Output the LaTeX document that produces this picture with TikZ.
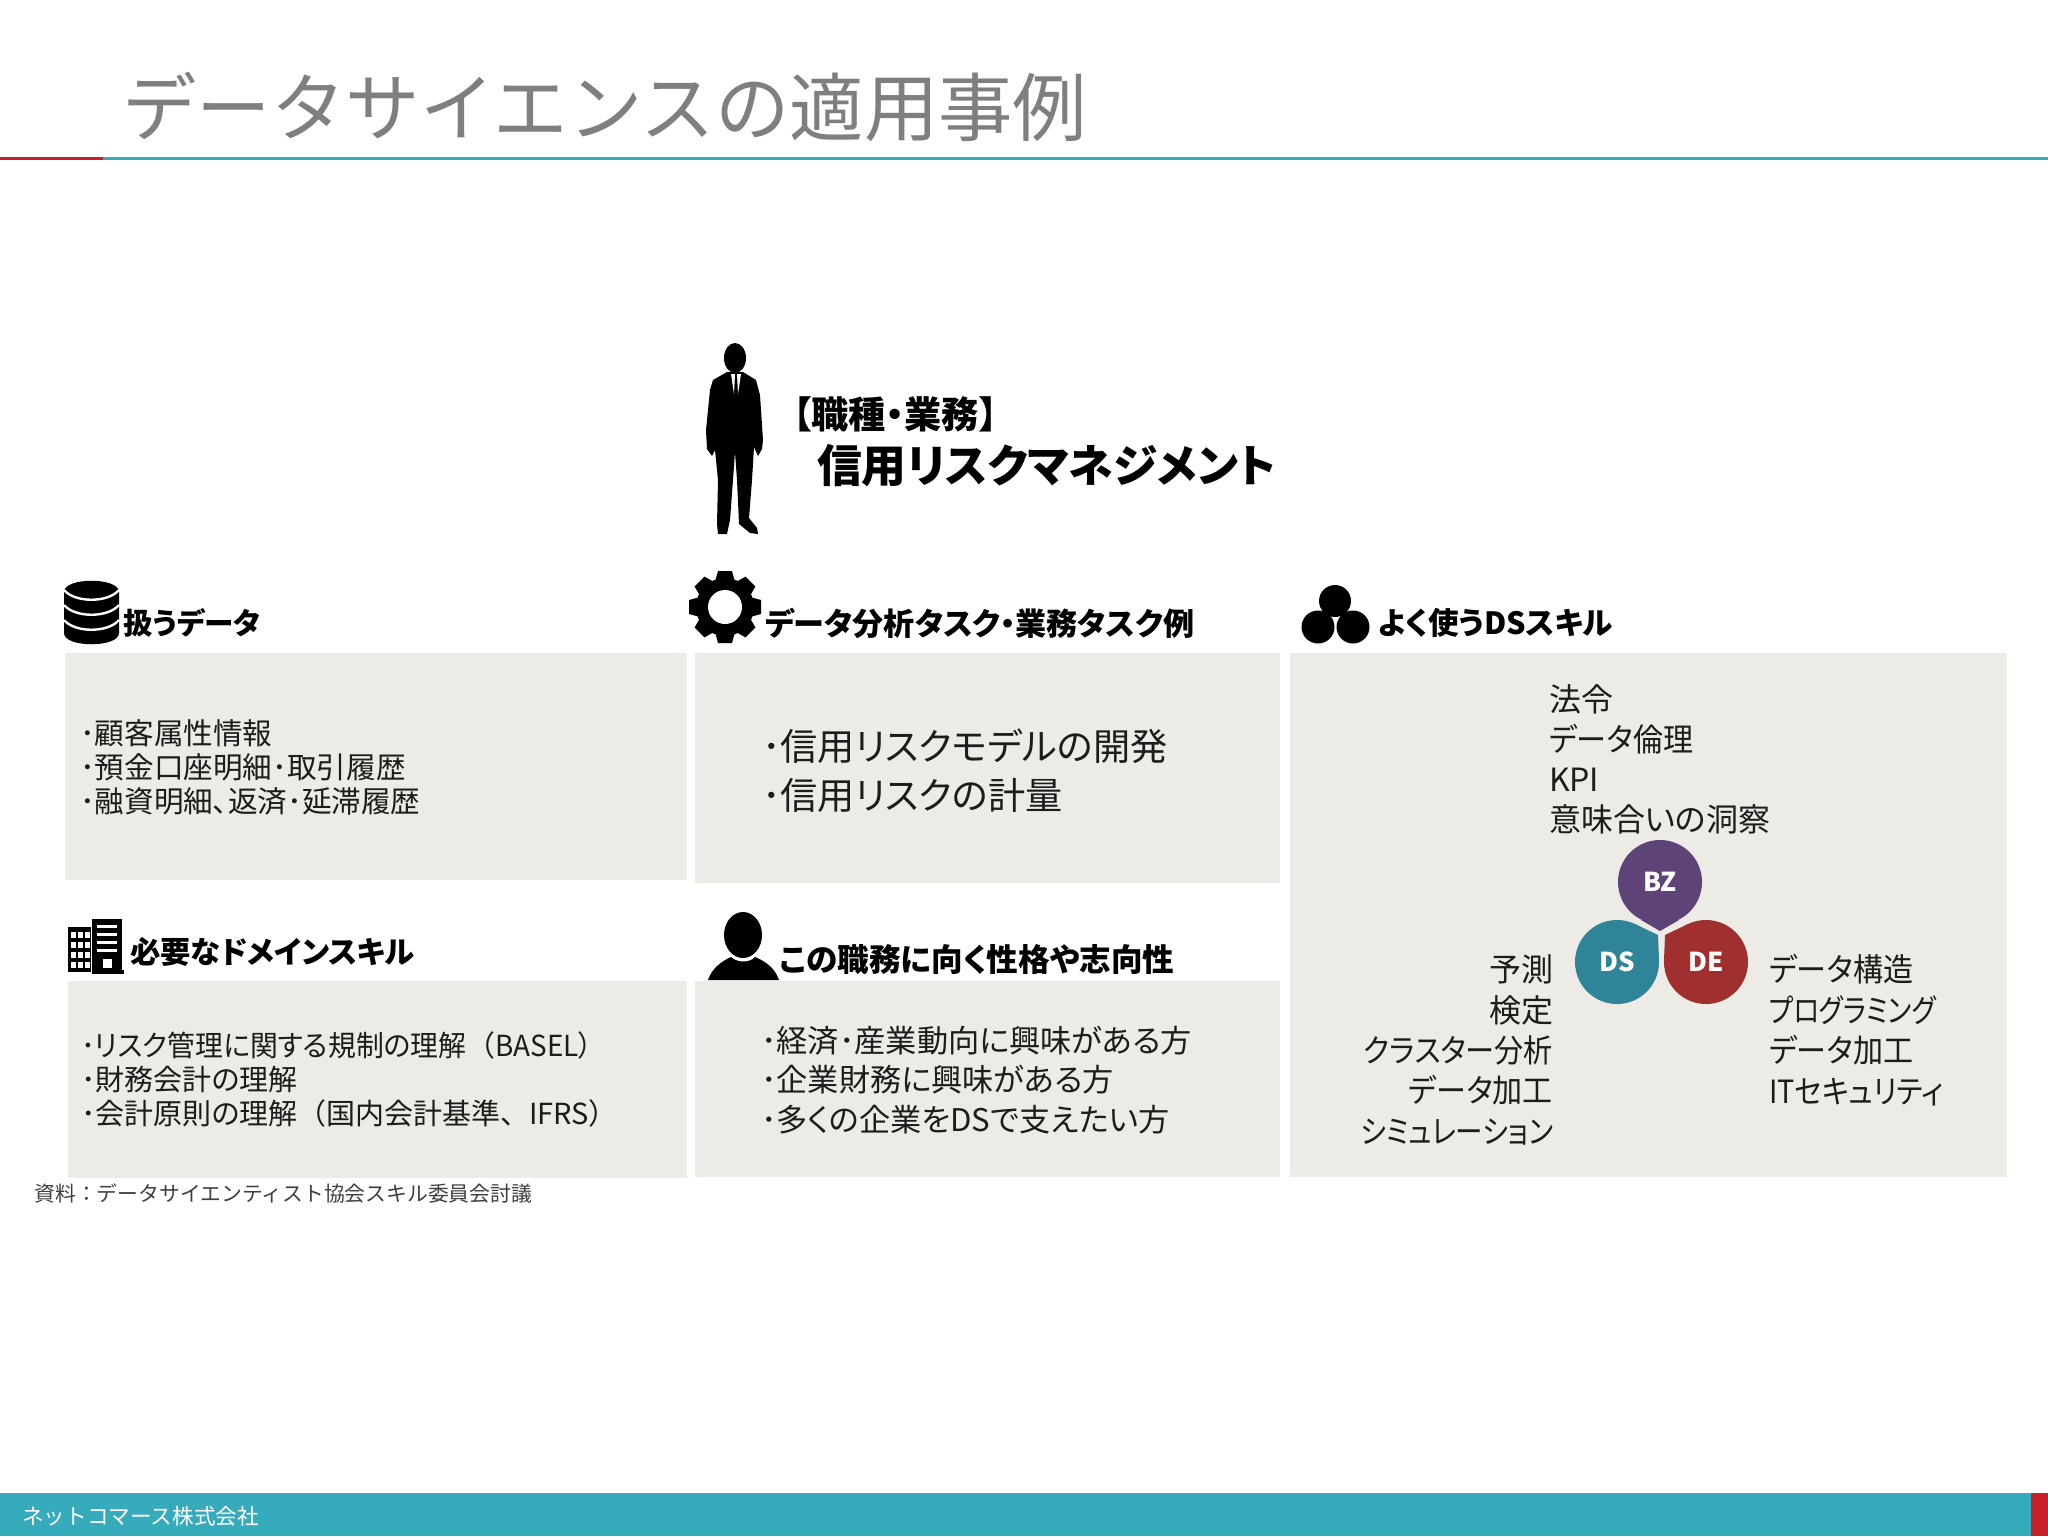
\documentclass[tikz,border=0pt]{standalone}
\usepackage{fontspec}
\setmainfont{Noto Sans CJK JP}
\newfontfamily\cjk{Noto Sans CJK JP}
\newfontfamily\cjkp[RawFeature={+palt}]{Noto Sans CJK JP}
\newcommand{\squeezed}[2]{{\addfontfeature{FakeStretch=#1}#2}}
\definecolor{boxbg}{HTML}{EDEBE5}
\definecolor{teal}{HTML}{36ABBC}
\definecolor{redbar}{HTML}{C8202A}
\definecolor{titlegray}{HTML}{7F7F7F}
\definecolor{ink}{HTML}{1C1C1C}
\definecolor{bzc}{HTML}{5E4378}
\definecolor{dsc}{HTML}{2F8497}
\definecolor{dec}{HTML}{A0302F}
\tikzset{
  panel/.style={fill=boxbg,draw=none},
  txt/.style={inner sep=0pt,outer sep=0pt,text=ink,align=left,anchor=west},
  head/.style={inner sep=0pt,outer sep=0pt,text=black,anchor=west,font=\cjkp\bfseries\fontsize{#1}{#1}\selectfont},
  body/.style n args={2}{txt,font=\cjkp\fontsize{#1}{#2}\selectfont},
  ball/.style={circle,minimum size=84pt*0.5,inner sep=0pt,text=white,font=\cjk\bfseries\fontsize{13}{13}\selectfont}
}
\begin{document}
\begin{tikzpicture}[x=0.5pt,y=-0.5pt]
\useasboundingbox (0,0) rectangle (2048,1536);
% header
\node[inner sep=0pt,anchor=west,text=titlegray,font=\cjk\fontsize{37.2}{37}\selectfont] (title) at (122,107) {データサイエンスの適用事例};
\fill[teal] (103,157) rectangle (2048,159.5);
\fill[redbar] (0,157) rectangle (103,159.5);
% footer
\fill[teal] (0,1493) rectangle (2031,1536);
\fill[redbar] (2031,1493) rectangle (2048,1536);
\node[inner sep=0pt,anchor=west,text=white,font=\cjk\fontsize{10.8}{11}\selectfont] (footer) at (22,1516) {ネットコマース株式会社};
% panels
\fill[panel] (65,653) rectangle (687,880);
\fill[panel] (695,653) rectangle (1280,883);
\fill[panel] (1290,653) rectangle (2007,1177);
\fill[panel] (68,981) rectangle (687,1178);
\fill[panel] (695,981) rectangle (1280,1177);
% person
\fill[black] (735,358) ellipse [x radius=11,y radius=15];
\fill[black] (727,372)--(743,372)--(756,380)--(760,395)--(763,440)--(762,449)--(758,456)--(754,447)--(752,480)--(749,518)--(757,528)--(758,534)--(750,533)--(739,524)--(737,480)--(735,452)--(733,480)--(730,520)--(727,534)--(718,534)--(717,524)--(718,480)--(715,450)--(712,456)--(707,449)--(706,430)--(710,390)--(713,380)--cycle;
\fill[white] (731,374)--(735,374)--(734,394)--cycle;
\fill[white] (741,374)--(737,374)--(738,394)--cycle;
\node[head=18.6] (jobtag) at (793,414) {【職種・業務】};
\node[head=22.4] (job) at (817,466) {信用リスクマネジメント};
% database icon
\fill[black] (64,592) .. controls (64,577) and (119,577) .. (119,592) -- (119,633) .. controls (119,648) and (64,648) .. (64,633) -- cycle;
\foreach \yy in {590,605,620}
  \draw[white,line width=1.2pt] (64,\yy) .. controls (75,\yy+13) and (108,\yy+13) .. (119,\yy);
\node[head=14.8] (h1) at (123,623) {扱うデータ};
% gear icon
\fill[black] (725,607) circle[radius=29];
\foreach \a in {0,45,...,315}
  \fill[black,rotate around={\a:(725,607)}] (715,582)--(718,571)--(732,571)--(735,582)--cycle;
\fill[white] (725,607) circle[radius=17];
\node[head=15.55] (h2) at (765,623) {データ分析タスク・業務タスク例};
% trefoil icon
\fill[black] (1335,601) circle[radius=16];
\fill[black] (1318,627) circle[radius=16.5];
\fill[black] (1353,627) circle[radius=16.5];
\node[head=15.3] (h3) at (1378,623) {よく使うDSスキル};
% building icon
\fill[black] (68,927) rectangle (91,972);
\fill[black] (92,919) rectangle (122,972);
\fill[black] (92,970) rectangle (124,974);
\foreach \cx in {71,78,85}
  \foreach \cy in {932,942,952,962}
    \fill[white] (\cx,\cy) rectangle (\cx+4.5,\cy+6);
\foreach \cy in {925,933,941,949}
  \fill[white] (97,\cy) rectangle (117,\cy+3);
\fill[white] (103,959) rectangle (112,968);
\node[head=15.2] (h4) at (130,952) {必要なドメインスキル};
% bust icon
\fill[black] (743,935) ellipse [x radius=19,y radius=23];
\fill[black] (708,980) .. controls (712,968) and (722,961) .. (731,957) .. controls (737,963) and (750,963) .. (755,957) .. controls (765,961) and (775,968) .. (779,980) -- cycle;
\node[head=15.8] (h5) at (780,960) {この職務に向く性格や志向性};
% body text
\node[body={14.8}{17}] (t1) at (80,767) {･顧客属性情報\\･預金口座明細･取引履歴\\･融資明細、返済･延滞履歴};
\node[body={18.6}{24.5}] (t2) at (762,771) {･信用リスクモデルの開発\\･信用リスクの計量};
\node[body={14.5}{17.2}] (t3) at (81,1079.5) {\squeezed{.96}{･リスク管理に関する規制の理解{\cjk（}BASEL）}\\･財務会計の理解\\･会計原則の理解{\cjk（}国内会計基準{\cjk、}IFRS）};
\node[body={15.6}{19.7}] (t4) at (761,1080) {･経済･産業動向に興味がある方\\･企業財務に興味がある方\\･多くの企業をDSで支えたい方};
\node[body={16}{20}] (t5) at (1549,759) {法令\\\squeezed{.94}{データ倫理}\\KPI\\意味合いの洞察};
\node[body={16}{20.2},anchor=east,align=right] (t6) at (1553,1050) {予測\\検定\\\squeezed{.91}{クラスター分析}\\\squeezed{.94}{データ加工}\\\squeezed{.86}{シミュレーション}};
\node[body={16}{20.3}] (t7) at (1769,1030) {\squeezed{.94}{データ構造}\\\squeezed{.83}{プログラミング}\\\squeezed{.94}{データ加工}\\\squeezed{.9}{ITセキュリティ}};
\node[inner sep=0pt,anchor=west,text=ink!85,font=\cjk\fontsize{10.4}{11}\selectfont] (src) at (34,1194) {資料：データサイエンティスト協会スキル委員会討議};
% skill drops
\fill[bzc] (1660,931)--(1641,920)--(1679,920)--cycle;
\fill[dsc] (1658,935)--(1659,960)--(1635,924)--cycle;
\fill[dec] (1665,935)--(1664,960)--(1688,924)--cycle;
\node[ball,fill=bzc] (bz) at (1660,882) {BZ};
\node[ball,fill=dsc] (ds) at (1617,962) {DS};
\node[ball,fill=dec] (de) at (1706,962) {DE};
\end{tikzpicture}
\end{document}
